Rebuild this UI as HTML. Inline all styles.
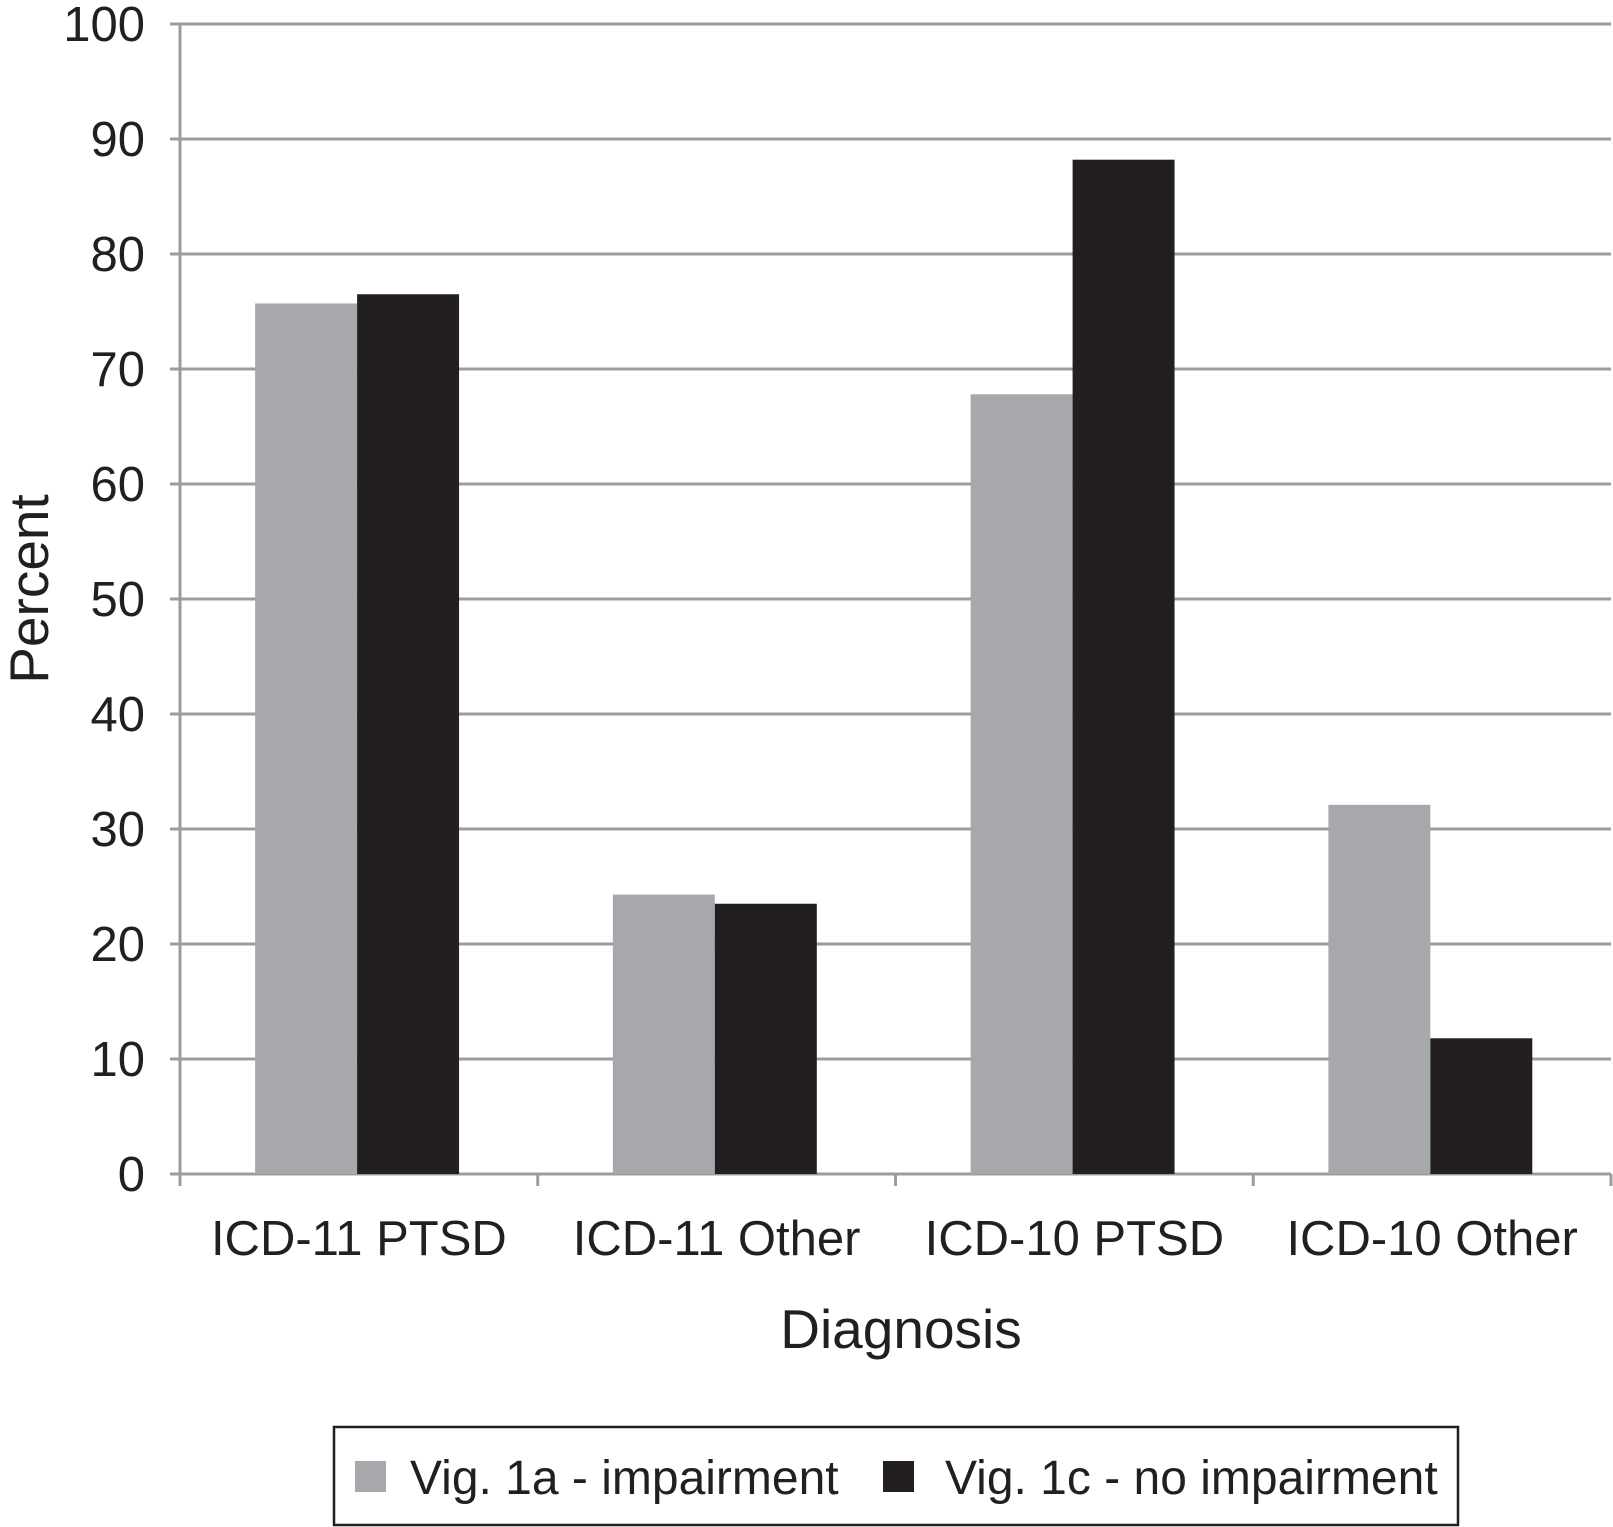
<!DOCTYPE html>
<html><head><meta charset="utf-8"><style>
html,body{margin:0;padding:0;background:#fff;}
svg{display:block;font-family:"Liberation Sans",Arial,sans-serif;}
</style></head><body>
<svg id="chart" width="1613" height="1527" viewBox="0 0 1613 1527">
<g id="grid"></g>
<g id="bars"></g>
<g id="axes"></g>
<text x="0" y="0" transform="translate(48,589) rotate(-90)" text-anchor="middle" font-size="55" fill="#231f20">Percent</text>
<text x="901" y="1348" text-anchor="middle" font-size="55" fill="#231f20">Diagnosis</text>
<g>
<rect x="334" y="1427" width="1124" height="98" fill="#fff" stroke="#231f20" stroke-width="2.5"/>
<g>
<rect x="355" y="1461" width="31" height="31" fill="#a7a8ab"/>
<text x="410" y="1494" font-size="48" fill="#231f20">Vig. 1a - impairment</text>
</g>
<g>
<rect x="883" y="1461" width="31" height="31" fill="#231f20"/>
<text x="945" y="1494" font-size="48" fill="#231f20">Vig. 1c - no impairment</text>
</g>
</g>
</svg>
<script>
const categories = ["ICD-11 PTSD","ICD-11 Other","ICD-10 PTSD","ICD-10 Other"];
const impairment = [75.7, 24.3, 67.8, 32.1];
const noImpairment = [76.5, 23.5, 88.2, 11.8];
const yTicks = [0,10,20,30,40,50,60,70,80,90,100];

const NS="http://www.w3.org/2000/svg";
const x0=180, x1=1611, yTop=24, yBot=1174;
const catW=(x1-x0)/categories.length;
const y=v=>yBot-(v/100)*(yBot-yTop);
function mk(tag,attrs,parent){const e=document.createElementNS(NS,tag);for(const k in attrs)e.setAttribute(k,attrs[k]);parent.appendChild(e);return e;}
const grid=document.getElementById('grid'), bars=document.getElementById('bars'), axes=document.getElementById('axes');
yTicks.forEach(t=>{
  const l=mk('line',{x1:x0-10,x2:x1,y1:y(t),y2:y(t),stroke:'#9c9c9c','stroke-width':3},grid);
  
  
  const tx=mk('text',{x:145,y:y(t)+17,'text-anchor':'end','font-size':49,fill:'#231f20'},axes);
  tx.textContent=t;
  
  
});
const bw=catW*0.285, off=catW*0.21;
categories.forEach((c,i)=>{
  const cx=x0+i*catW;
  const b1=mk('rect',{x:cx+off,y:y(impairment[i]),width:bw,height:yBot-y(impairment[i]),fill:'#a7a8ab'},bars);
  
  
  const b2=mk('rect',{x:cx+off+bw,y:y(noImpairment[i]),width:bw,height:yBot-y(noImpairment[i]),fill:'#231f20'},bars);
  
  
  const lb=mk('text',{x:cx+catW/2,y:1255,'text-anchor':'middle','font-size':49,fill:'#231f20'},axes);
  lb.textContent=c;
  
  
});
for(let i=0;i<=categories.length;i++){
  const tk=mk('line',{x1:x0+i*catW,x2:x0+i*catW,y1:yBot,y2:yBot+12,stroke:'#9c9c9c','stroke-width':3},axes);
  
  
}
const ya=mk('line',{x1:x0,x2:x0,y1:yTop,y2:yBot+12,stroke:'#9c9c9c','stroke-width':3},axes);


</script>
</body></html>
